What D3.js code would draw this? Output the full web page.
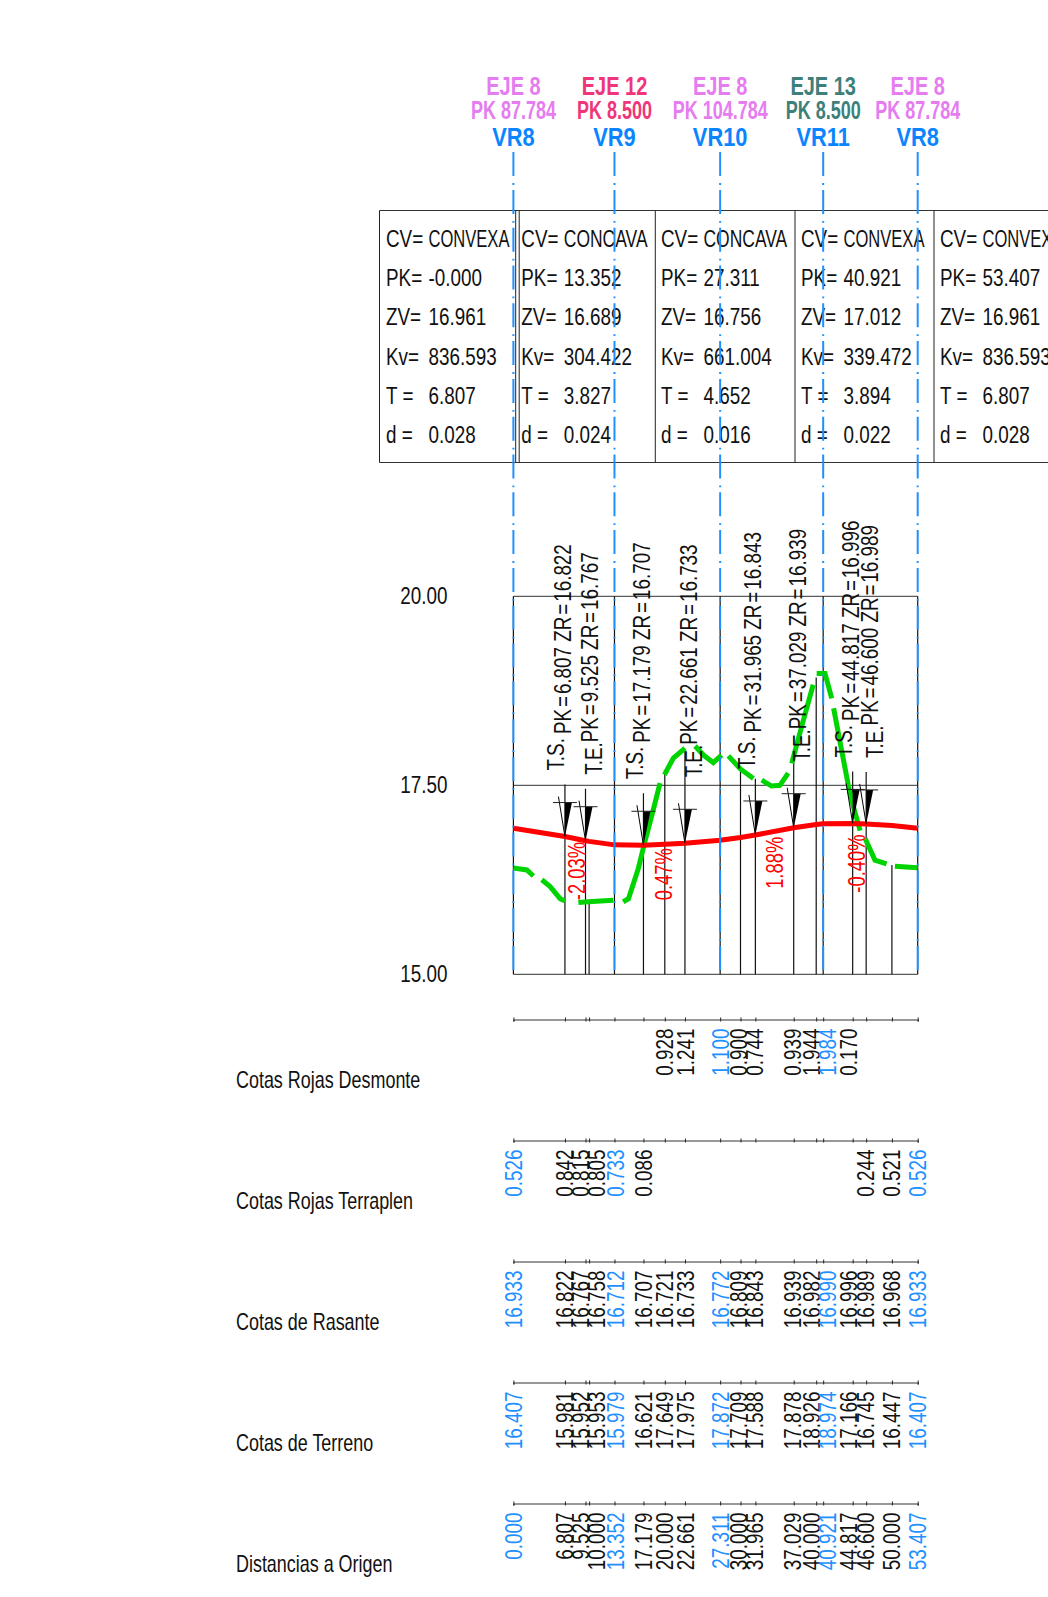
<!DOCTYPE html>
<html>
<head>
<meta charset="utf-8">
<script src="https://cdn.jsdelivr.net/npm/d3@7"></script>
<style>
    body { margin: 0; background: #fff; overflow: hidden; }
    text { font-family: "Liberation Sans", Arial, sans-serif; }
</style>
</head>
<body>
<svg id="chart" width="1048" height="1597"></svg>
<script>
const stations = [0, 6.807, 9.525, 10, 13.352, 17.179, 20, 22.661, 27.311, 30, 31.965, 37.029, 40, 40.921, 44.817, 46.6, 50, 53.407];
const vrStations = [0, 13.352, 27.311, 40.921, 53.407];

const desmonte = [null, null, null, null, null, null, "0.928", "1.241", "1.100", "0.900", "0.744", "0.939", "1.944", "1.984", "0.170", null, null, null];
const terraplen = ["0.526", "0.842", "0.815", "0.805", "0.733", "0.086", null, null, null, null, null, null, null, null, null, "0.244", "0.521", "0.526"];
const rasante = [16.933, 16.822, 16.767, 16.758, 16.712, 16.707, 16.721, 16.733, 16.772, 16.809, 16.843, 16.939, 16.982, 16.990, 16.996, 16.989, 16.968, 16.933];
const terreno = [16.407, 15.981, 15.952, 15.953, 15.979, 16.621, 17.649, 17.975, 17.872, 17.709, 17.588, 17.878, 18.926, 18.974, 17.166, 16.745, 16.447, 16.407];
const rowNames = ["Cotas Rojas Desmonte", "Cotas Rojas Terraplen", "Cotas de Rasante", "Cotas de Terreno", "Distancias a Origen"];

// ground line, split where the line has gaps
const groundParts = [
    [[0, 16.407], [1.77, 16.38], [2.64, 16.30]],
    [[3.75, 16.25], [4.85, 16.16], [6.17, 16.0], [6.83, 15.97]],
    [[8.58, 15.95], [9.9, 15.96], [13.2, 15.98]],
    [[14.5, 15.96], [15.2, 16.0], [16.5, 16.40], [17.26, 16.71], [18.28, 17.1], [19.37, 17.53]],
    [[19.95, 17.64], [21.13, 17.86], [22.67, 17.99]],
    [[24, 18.02], [25.1, 17.9], [26.4, 17.8], [27.5, 17.9]],
    [[28.4, 17.89], [29.94, 17.72], [31.7, 17.59]],
    [[32.8, 17.57], [34.1, 17.49], [35.2, 17.5], [36.3, 17.66]],
    [[36.76, 17.79], [38.3, 18.36], [39.6, 18.83]],
    [[40.06, 18.98], [41.16, 18.98], [42.05, 18.65]],
    [[42.3, 18.52], [44.24, 17.5], [44.9, 17.22], [45.8, 16.9]],
    [[46.45, 16.8], [47.76, 16.51], [49.3, 16.46]],
    [[50.4, 16.43], [53.4, 16.41]]
];

const curvePoints = [
    ["T.S.", 6.807, 16.822], ["T.E.", 9.525, 16.767], ["T.S.", 17.179, 16.707], ["T.E.", 22.661, 16.733],
    ["T.S.", 31.965, 16.843], ["T.E.", 37.029, 16.939], ["T.S.", 44.817, 16.996], ["T.E.", 46.6, 16.989]
];
const slopeText = ["-2.03%", "0.47%", "1.88%", "-0.40%"];
const slopePk = [8.37, 19.95, 34.56, 45.35];
const slopeZ = [15.98, 15.98, 16.13, 16.08];

const vrNames = ["VR8", "VR9", "VR10", "VR11", "VR8"];
const ejeNames = ["EJE 8", "EJE 12", "EJE 8", "EJE 13", "EJE 8"];
const ejePks = ["PK 87.784", "PK 8.500", "PK 104.784", "PK 8.500", "PK 87.784"];
const ejeColors = ["#e57cf0", "#f0357a", "#e57cf0", "#3d7f7a", "#e57cf0"];

const tableKind = ["CONVEXA", "CONCAVA", "CONCAVA", "CONVEXA", "CONVEXA"];
const tablePk = ["-0.000", "13.352", "27.311", "40.921", "53.407"];
const tableZv = ["16.961", "16.689", "16.756", "17.012", "16.961"];
const tableKv = ["836.593", "304.422", "661.004", "339.472", "836.593"];
const tableT = ["6.807", "3.827", "4.652", "3.894", "6.807"];
const tableD = ["0.028", "0.024", "0.016", "0.022", "0.028"];
const tableKeys = ["CV=", "PK=", "ZV=", "Kv=", "T =", "d ="];

const BLUE = "#1e90ff";
const INK = "#111";
const SQUEEZE = 0.82; // the drawing's font is narrower than Liberation Sans
const svg = d3.select("#chart");

const x = d3.scaleLinear().domain([0, 53.407]).range([513.4, 917.7]);
const y = d3.scaleLinear().domain([15, 20]).range([974.3, 596.3]);

// header labels above each VR line
vrStations.forEach((pk, i) => {
    const cx = x(pk);
    const head = (txt, py, fill, size, sx) => svg.append("text")
        .attr("transform", `translate(${cx},${py}) scale(${sx},1)`)
        .attr("text-anchor", "middle")
        .attr("font-size", size)
        .attr("font-weight", "bold")
        .attr("fill", fill)
        .text(txt);
    head(ejeNames[i], 95, ejeColors[i], 25, 0.8);
    head(ejePks[i], 119, ejeColors[i], 25, 0.72);
    head(vrNames[i], 146, "#0a84ff", 26, 0.84);
});

// table of vertical curves
const colLeft = [379.5, 519.2, 655.3, 795, 934];
const colText = [386, 521.3, 661, 801, 940];
const rowY = [238.5, 278, 317, 356.5, 395.5, 435];
svg.append("line").attr("x1", 379.5).attr("x2", 1048).attr("y1", 210.5).attr("y2", 210.5).attr("stroke", "#333");
svg.append("line").attr("x1", 379.5).attr("x2", 1048).attr("y1", 462.5).attr("y2", 462.5).attr("stroke", "#333");
colLeft.concat([515.7]).forEach(d => {
    svg.append("line").attr("x1", d).attr("x2", d).attr("y1", 210.5).attr("y2", 462.5).attr("stroke", "#222");
});
tableKind.forEach((kind, c) => {
    const vals = [kind, tablePk[c], tableZv[c], tableKv[c], tableT[c], tableD[c]];
    vals.forEach((v, r) => {
        const put = (s, dx, sx) => svg.append("text")
            .attr("transform", `translate(${colText[c] + dx},${rowY[r]}) scale(${sx},1)`)
            .attr("dy", "0.35em").attr("font-size", 23).attr("fill", INK).text(s);
        put(tableKeys[r], 0, SQUEEZE);
        const sx = r > 0 ? SQUEEZE : (kind == "CONVEXA" ? 0.72 : 0.76);
        put(v, 42.5, sx);
    });
});

// profile grid
[15, 17.5, 20].forEach(d => {
    svg.append("line").attr("x1", x(0)).attr("x2", x(53.407)).attr("y1", y(d)).attr("y2", y(d)).attr("stroke", "#333");
});
stations.forEach((pk, i) => {
    let top = y(terreno[i]);
    if (vrStations.includes(pk)) top = y(20);
    const curve = curvePoints.find(c => c[1] == pk);
    if (curve) top = Math.min(top, y(curve[2]) - 52);
    svg.append("line").attr("x1", x(pk)).attr("x2", x(pk)).attr("y1", y(15)).attr("y2", top)
        .attr("stroke", "#111").attr("stroke-width", 1.2);
});

const line = d3.line().x(d => x(d[0])).y(d => y(d[1]));

groundParts.forEach(part => {
    svg.append("path").attr("d", line(part)).attr("fill", "none")
        .attr("stroke", "#00d400").attr("stroke-width", 5);
});
svg.append("path")
    .attr("d", line(stations.map((pk, i) => [pk, rasante[i]])))
    .attr("fill", "none").attr("stroke", "#ff0000").attr("stroke-width", 5);

// curve start / end marks with their labels
curvePoints.forEach(c => {
    const px = x(c[1]);
    const py = y(c[2]);
    const g = svg.append("g").attr("transform", `translate(${px},${py})`);
    g.append("path").attr("d", "M0,0L7,-34L0,-34Z").attr("fill", "#000");
    g.append("path").attr("d", "M0,0L-6.5,-40").attr("stroke", "#000").attr("fill", "none");
    g.append("line").attr("x1", -12).attr("x2", 12).attr("y1", -34).attr("y2", -34).attr("stroke", "#222");

    const isStart = c[0] == "T.S.";
    const place = (dx, up) => svg.append("text")
        .attr("transform", `translate(${px + dx},${py - up}) rotate(-90) scale(${SQUEEZE},1)`)
        .attr("dy", "0.35em")
        .attr("font-size", 23)
        .attr("fill", INK);
    place(isStart ? -8.5 : 8.5, 66).text(c[0]);

    // the "=" sits wider in the original font
    const t = place(isStart ? -2 : 4, isStart ? 102.5 : 98.5);
    const parts = [["PK", 0], ["=", 2.3], [c[1].toFixed(3), 2.3], [" ZR", 0], ["=", 2.3], [c[2].toFixed(3), 2.3]];
    parts.forEach(p => t.append("tspan").attr("dx", p[1]).text(p[0]));
});

slopeText.forEach((s, i) => {
    svg.append("text")
        .attr("transform", `translate(${x(slopePk[i])},${y(slopeZ[i])}) rotate(-90) scale(0.8,1)`)
        .attr("dy", "0.35em")
        .attr("font-size", 23)
        .attr("fill", "#ff0000")
        .text(s);
});

// blue VR lines on top
vrStations.forEach(pk => {
    svg.append("line").attr("x1", x(pk)).attr("x2", x(pk)).attr("y1", 152.1).attr("y2", 974.3)
        .attr("stroke", BLUE).attr("stroke-width", 2).attr("stroke-dasharray", "24 7 1.8 5");
});

// elevation axis
const yAxis = d3.axisLeft(y).tickValues([15, 17.5, 20]).tickFormat(d3.format(".2f")).tickSize(0).tickPadding(66);
const yG = svg.append("g").attr("transform", `translate(${x(0)},0)`).call(yAxis);
yG.select(".domain").remove();
yG.selectAll(".tick text")
    .attr("font-size", 23).attr("font-family", null).attr("fill", INK)
    .attr("x", -66 / SQUEEZE)
    .attr("transform", `scale(${SQUEEZE},1)`);

// guitar rows under the profile
const rows = [desmonte, terraplen, rasante.map(d => d.toFixed(3)), terreno.map(d => d.toFixed(3)), stations.map(d => d.toFixed(3))];
const rowLineY = [1019.5, 1140.5, 1261.5, 1382.5, 1503.5];
const rowLabelY = [1080, 1201, 1322, 1443, 1564];
// crowded labels are pushed sideways off their tick
const labelShift = [0, 0, -5.5, 7.6, 0.5, 0, 0, 0, 0, -2.5, -0.5, -0.8, -4.6, 4.7, -4.7, -1.2, 0, 0];

rows.forEach((row, r) => {
    const axis = d3.axisBottom(x).tickValues(stations).tickSize(2)
        .tickFormat(d => row[stations.indexOf(d)] || "");
    const g = svg.append("g").attr("transform", `translate(0,${rowLineY[r]})`).call(axis);
    g.select(".domain").attr("stroke", "#333").attr("stroke-width", 1.2);
    g.selectAll(".tick line").attr("y1", -2).attr("stroke", "#222");
    g.selectAll(".tick text")
        .attr("transform", d => `translate(${labelShift[stations.indexOf(d)]},9) rotate(-90) scale(${SQUEEZE},1)`)
        .attr("text-anchor", "end")
        .attr("x", 0)
        .attr("y", 0)
        .attr("dy", "0.35em")
        .attr("font-size", 23)
        .attr("font-family", null)
        .attr("fill", d => vrStations.includes(d) ? BLUE : INK);

    svg.append("text")
        .attr("transform", `translate(236,${rowLabelY[r]}) scale(0.78,1)`)
        .attr("dy", "0.35em")
        .attr("font-size", 23)
        .attr("fill", INK)
        .text(rowNames[r]);
});
</script>
</body>
</html>
